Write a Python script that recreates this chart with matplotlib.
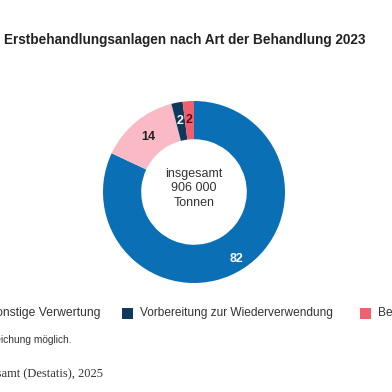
import matplotlib.pyplot as plt
from matplotlib.patches import Rectangle
import numpy as np

plt.rcParams['font.family'] = ['Liberation Sans', 'DejaVu Sans']

# data
categories = ["Recycling", "Sonstige Verwertung", "Vorbereitung zur Wiederverwendung", "Beseitigung"]
shares = [82, 14, 2, 2]
colors = ["#0a6fb5", "#f9bac5", "#0d3a5c", "#f1606f"]
label_colors = ["white", "#222222", "white", "#5a0a18"]

W = H = 392
fig = plt.figure(figsize=(3.92, 3.92), dpi=100)

def px(x, y):
    return x / W, 1 - y / H

# donut: centre ~ (194, 192), outer radius ~ 91 px
cx, cy, r = 194, 192, 91
ax = fig.add_axes([(cx - r) / W, 1 - (cy + r) / H, 2 * r / W, 2 * r / H])
wedges, _ = ax.pie(shares, colors=colors, startangle=90, counterclock=False,
                   radius=1.0, wedgeprops=dict(width=0.42, linewidth=0))
ax.set_xlim(-1, 1)
ax.set_ylim(-1, 1)
ax.set_aspect('equal')
ax.axis('off')

label_r = [0.87, 0.79, 0.79, 0.79]
for i, w in enumerate(wedges):
    ang = np.deg2rad((w.theta1 + w.theta2) / 2)
    ax.text(label_r[i] * np.cos(ang), label_r[i] * np.sin(ang), str(shares[i]),
            ha='center', va='center', fontsize=9, fontweight='bold',
            color=label_colors[i])

ax.text(0, 0.04, "insgesamt\n906 000\nTonnen", ha='center', va='center',
        fontsize=9, color="#333333", linespacing=1.25)

# title
fig.text(*px(4, 40), "Erstbehandlungsanlagen nach Art der Behandlung 2023",
         ha='left', va='center', fontsize=9.85, fontweight='bold', color="#222222")

# legend (partly outside the visible area, as in the reference crop)
legend_sq = [-255, -40, 122, 360]
legend_txt_right = [-140, 100, None, None]
for i, cat in enumerate(categories):
    sx = legend_sq[i]
    fig.patches.append(Rectangle(px(sx, 319), 11 / W, 11 / H,
                                 transform=fig.transFigure, facecolor=colors[i],
                                 edgecolor='none'))
    if legend_txt_right[i] is not None:
        fig.text(*px(legend_txt_right[i], 313), cat, ha='right', va='center',
                 fontsize=8.7, color="#333333")
    else:
        fig.text(*px(sx + 18, 313), cat, ha='left', va='center',
                 fontsize=8.6, color="#333333")

# footnote and source
fig.text(*px(72, 340), "Rundungsbedingte Abweichung möglich.", ha='right', va='center',
         fontsize=7.3, color="#333333")
fig.text(*px(103, 373), "Quelle: Statistisches Bundesamt (Destatis), 2025", ha='right',
         va='center', fontsize=9, color="#333333", family=['Liberation Serif'])

fig.savefig("out.png", dpi=100)
